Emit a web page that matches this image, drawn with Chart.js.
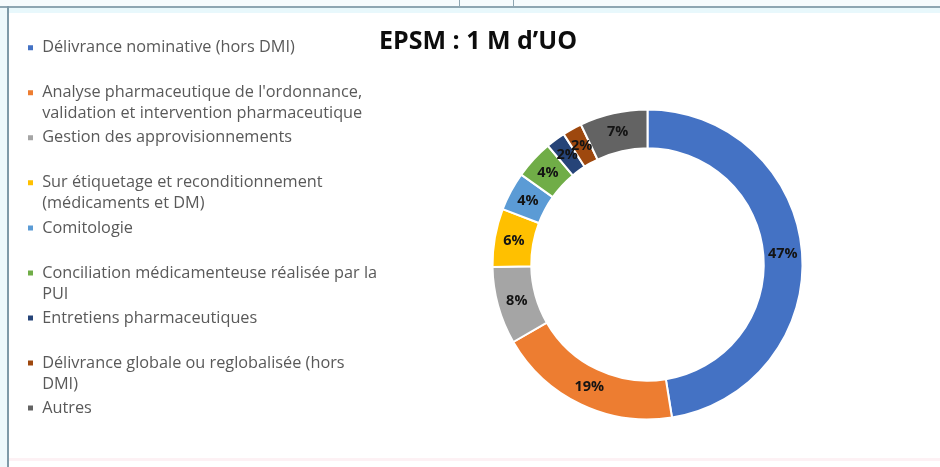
<!DOCTYPE html>
<html>
<head>
<meta charset="utf-8">
<script src="https://cdn.jsdelivr.net/npm/chart.js@4/dist/chart.umd.min.js"></script>
<style>
  html, body { margin: 0; padding: 0; background: #ffffff; }
  #wrap { position: relative; width: 940px; height: 467px; overflow: hidden; }
  #chart { position: absolute; left: 0; top: 0; }
  .frame { position: absolute; }
</style>
</head>
<body>
<div id="wrap">
  <div class="frame" style="left:0;top:0;width:940px;height:6px;background:#f6fbfd"></div>
  <div class="frame" style="left:0;top:6px;width:940px;height:2px;background:#8ea6b2"></div>
  <div class="frame" style="left:9px;top:8px;width:931px;height:5px;background:#e8f8fc"></div>
  <div class="frame" style="left:0;top:8px;width:7px;height:459px;background:#eef9fc"></div>
  <div class="frame" style="left:7px;top:6px;width:2px;height:461px;background:#7f9aa8"></div>
  <div class="frame" style="left:459px;top:0;width:1px;height:6px;background:#8ea6b2"></div>
  <div class="frame" style="left:513px;top:0;width:1px;height:6px;background:#8ea6b2"></div>
  <div class="frame" style="left:9px;top:458px;width:931px;height:3px;background:#fdf1f4"></div>
  <canvas id="chart" width="940" height="467"></canvas>
</div>
<script>
// categories (legend text, wrapped as in the original)
const categories = [
  ['Délivrance nominative (hors DMI)', ''],
  ["Analyse pharmaceutique de l'ordonnance,", 'validation et intervention pharmaceutique'],
  ['Gestion des approvisionnements', ''],
  ['Sur étiquetage et reconditionnement', '(médicaments et DM)'],
  ['Comitologie', ''],
  ['Conciliation médicamenteuse réalisée par la', 'PUI'],
  ['Entretiens pharmaceutiques', ''],
  ['Délivrance globale ou reglobalisée (hors', 'DMI)'],
  ['Autres', ''],
];

// share of UO, in percent
const shares = [47, 19, 8, 6, 4, 4, 2, 2, 7];

const sliceColors = [
  '#4472C4', '#ED7D31', '#A5A5A5', '#FFC000', '#5B9BD5',
  '#70AD47', '#264478', '#9E480E', '#636363',
];

const FONT = 'Open Sans';

// percent labels in the middle of the ring
const ringLabels = {
  id: 'ringLabels',
  afterDatasetsDraw(chart) {
    const { ctx } = chart;
    const meta = chart.getDatasetMeta(0);
    ctx.save();
    ctx.font = 'bold 14.5px ' + FONT;
    ctx.fillStyle = '#141414';
    ctx.textAlign = 'center';
    ctx.textBaseline = 'middle';
    meta.data.forEach((arc, i) => {
      const pos = arc.tooltipPosition();
      ctx.fillText(shares[i] + '%', pos.x, pos.y);
    });
    ctx.restore();
  },
};

new Chart(document.getElementById('chart'), {
  type: 'doughnut',
  data: {
    labels: categories,
    datasets: [
      {
        data: shares,
        backgroundColor: sliceColors,
        borderColor: '#ffffff',
        borderWidth: 2,
      },
    ],
  },
  options: {
    responsive: false,
    animation: false,
    radius: 155,
    cutout: '75%',
    layout: {
      padding: { left: 24, right: 24, top: 10, bottom: 22 },
    },
    plugins: {
      title: {
        display: true,
        text: 'EPSM : 1 M d’UO',
        align: 'start',
        fullSize: false,
        color: '#0d0d0d',
        font: { family: FONT, size: 25, weight: 'bold', lineHeight: 1.2 },
        padding: { top: 17, bottom: 27 },
      },
      legend: {
        position: 'left',
        align: 'end',
        maxWidth: 355,
        labels: {
          boxWidth: 7,
          boxHeight: 7,
          padding: 3,
          color: '#595959',
          font: { family: FONT, size: 16.3, lineHeight: 1.29 },
        },
      },
      tooltip: { enabled: false },
    },
  },
  plugins: [ringLabels],
});
</script>
</body>
</html>
